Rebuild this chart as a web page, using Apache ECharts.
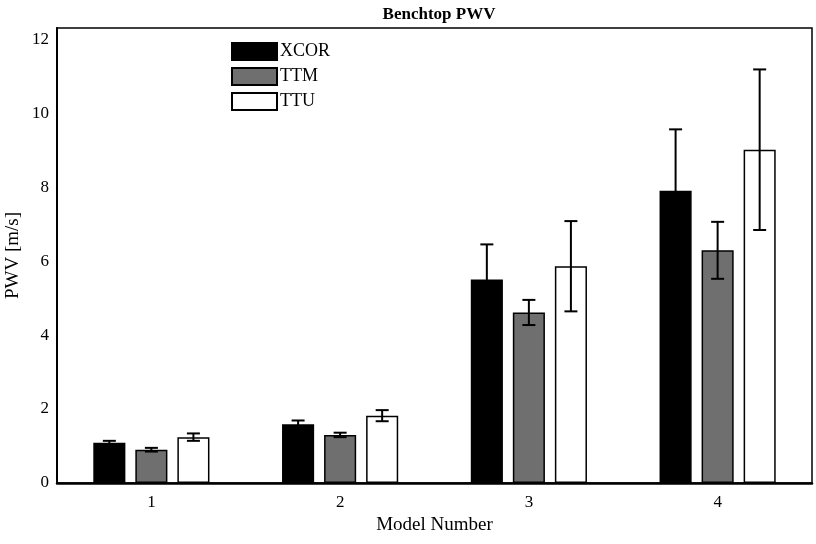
<!DOCTYPE html>
<html>
<head>
<meta charset="utf-8">
<script src="https://cdn.jsdelivr.net/npm/echarts@6/dist/echarts.min.js"></script>
<style>
html,body{margin:0;padding:0;background:#fff;}
#chart{width:816px;height:544px;}
</style>
</head>
<body>
<div id="chart"></div>
<script>
var categories = ['1', '2', '3', '4'];
var seriesNames = ['XCOR', 'TTM', 'TTU'];
var xcor = [1.09, 1.59, 5.50, 7.90];
var xcorErr = [0.05, 0.10, 0.95, 1.66];
var ttm = [0.90, 1.30, 4.61, 6.29];
var ttmErr = [0.05, 0.06, 0.34, 0.77];
var ttu = [1.24, 1.82, 5.86, 9.01];
var ttuErr = [0.10, 0.15, 1.22, 2.17];
var yTicks = [0, 2, 4, 6, 8, 10, 12];

var FONT = 'Liberation Serif';
var colors = ['#000000', '#6f6f6f', '#ffffff'];
var values = [xcor, ttm, ttu];
var errs = [xcorErr, ttmErr, ttuErr];
var BAR_PCT = 0.17, GAP_PCT = 0.31;

var chart = echarts.init(document.getElementById('chart'));

var series = [];
seriesNames.forEach(function (name, s) {
  series.push({
    name: name,
    type: 'bar',
    data: values[s],
    barWidth: (BAR_PCT * 100) + '%',
    barGap: (GAP_PCT * 100) + '%',
    itemStyle: { color: colors[s], borderColor: '#000', borderWidth: 1.5 },
    emphasis: { disabled: true },
    z: 2
  });
});
seriesNames.forEach(function (name, s) {
  var data = values[s].map(function (v, i) {
    return [i, v - errs[s][i], v + errs[s][i]];
  });
  series.push({
    name: name + ' err',
    type: 'custom',
    data: data,
    encode: { x: 0, y: [1, 2] },
    z: 5,
    silent: true,
    renderItem: function (params, api) {
      var idx = api.value(0);
      var lo = api.coord([idx, api.value(1)]);
      var hi = api.coord([idx, api.value(2)]);
      var cw = api.size([1, 0])[0];
      var bw = BAR_PCT * cw;
      var off = (s - 1) * (bw + GAP_PCT * bw);
      var x = lo[0] + off;
      var cap = 6.5;
      var st = { stroke: '#000', lineWidth: 2, fill: null };
      return {
        type: 'group',
        children: [
          { type: 'line', shape: { x1: x, y1: lo[1], x2: x, y2: hi[1] }, style: st },
          { type: 'line', shape: { x1: x - cap, y1: hi[1], x2: x + cap, y2: hi[1] }, style: st },
          { type: 'line', shape: { x1: x - cap, y1: lo[1], x2: x + cap, y2: lo[1] }, style: st }
        ]
      };
    }
  });
});

chart.setOption({
  animation: false,
  backgroundColor: '#fff',
  title: {
    text: 'Benchtop PWV',
    left: 434, textAlign: 'center', top: 1,
    textStyle: { fontFamily: FONT, fontWeight: 'bold', fontSize: 17, color: '#000' }
  },
  legend: {
    data: seriesNames,
    orient: 'vertical',
    left: 226, top: 37,
    itemWidth: 45, itemHeight: 17, itemGap: 6,
    icon: 'rect',
    textStyle: { fontFamily: FONT, fontSize: 18, color: '#000', padding: [0, 0, 0, -2] }
  },
  grid: {
    left: 57, right: 4, top: 28, bottom: 61,
    outerBoundsMode: 'none',
    containLabel: false,
    show: true, borderColor: '#000', borderWidth: 1.5, backgroundColor: 'transparent'
  },
  xAxis: {
    type: 'category',
    data: categories,
    name: 'Model Number',
    nameLocation: 'middle',
    nameGap: 33,
    nameMoveOverlap: false,
    nameTextStyle: { fontFamily: FONT, fontSize: 19, color: '#000' },
    axisLine: { lineStyle: { color: '#000', width: 2.5 } },
    axisTick: { show: false },
    axisLabel: { fontFamily: FONT, fontSize: 17, color: '#000', margin: 11 }
  },
  yAxis: {
    type: 'value',
    min: 0, max: 12.3, interval: 2,
    name: 'PWV [m/s]',
    nameLocation: 'middle',
    nameGap: 34,
    nameMoveOverlap: false,
    nameTextStyle: { fontFamily: FONT, fontSize: 19, color: '#000' },
    axisLine: { show: true, lineStyle: { color: '#000', width: 2 } },
    axisTick: { show: false },
    splitLine: { show: false },
    axisLabel: {
      fontFamily: FONT, fontSize: 17, color: '#000', margin: 8,
      formatter: function (v) { return yTicks.indexOf(v) >= 0 ? String(v) : ''; }
    }
  },
  series: series
});
</script>
</body>
</html>
